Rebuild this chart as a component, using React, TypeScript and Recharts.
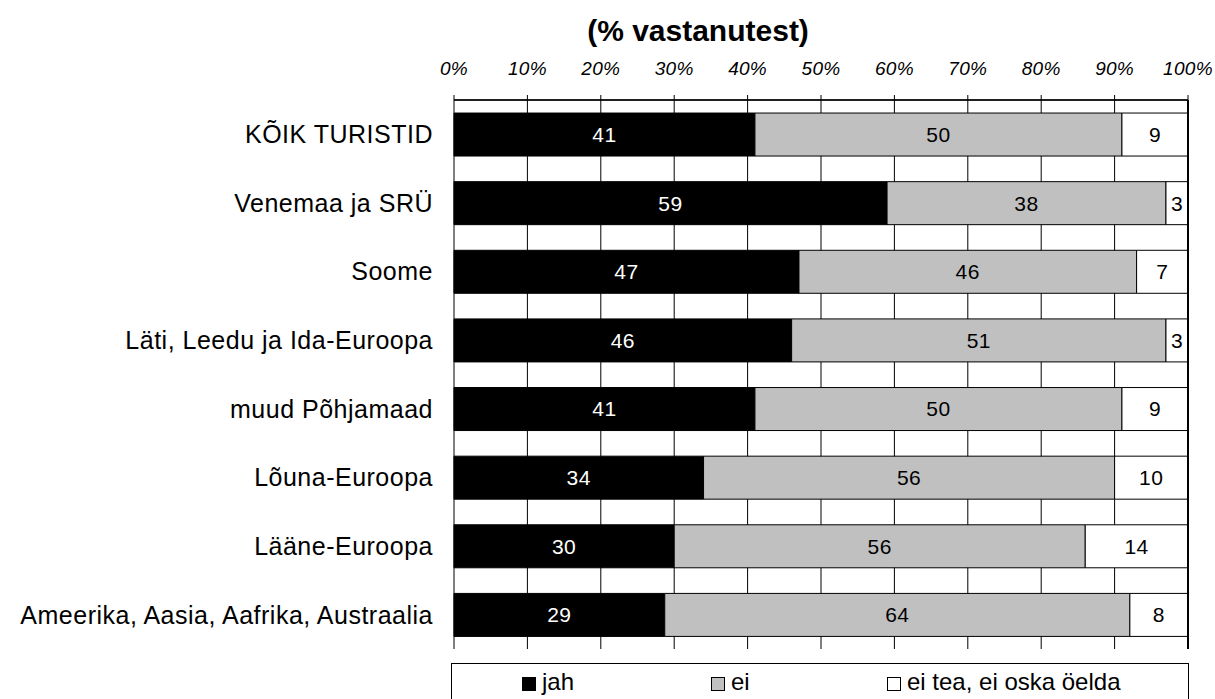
import React from 'react'
import { BarChart, Bar, XAxis, YAxis, CartesianGrid, LabelList, ReferenceLine } from 'recharts'

const categories = [
  'KÕIK TURISTID',
  'Venemaa ja SRÜ',
  'Soome',
  'Läti, Leedu ja Ida-Euroopa',
  'muud Põhjamaad',
  'Lõuna-Euroopa',
  'Lääne-Euroopa',
  'Ameerika, Aasia, Aafrika, Austraalia',
]
const jah = [41, 59, 47, 46, 41, 34, 30, 29]
const ei = [50, 38, 46, 51, 50, 56, 56, 64]
const eiTea = [9, 3, 7, 3, 9, 10, 14, 8]
const percentTicks = [0, 0.1, 0.2, 0.3, 0.4, 0.5, 0.6, 0.7, 0.8, 0.9, 1]
const seriesNames = ['jah', 'ei', 'ei tea, ei oska öelda']

const data = categories.map((name, i) => ({ name, jah: jah[i], ei: ei[i], eiTea: eiTea[i] }))
const boundaryTicks = categories.map((_, i) => i).concat(categories.length)

const font = '"Liberation Sans", Arial, sans-serif'

const series = [
  { key: 'jah', fill: '#000000', text: '#ffffff' },
  { key: 'ei', fill: '#c0c0c0', text: '#000000' },
  { key: 'eiTea', fill: '#ffffff', text: '#000000' },
]
// legend marker x positions inside the legend box
const legendX = [70, 259, 435]

const App = () => {
  return (
    <div style={{ position: 'absolute', left: 0, top: 0, width: 1215, height: 699, fontFamily: font }}>
      <div
        style={{
          position: 'absolute', left: 498, top: 16, width: 400, textAlign: 'center',
          fontSize: 30, lineHeight: '30px', fontWeight: 'bold', color: '#000',
        }}
      >
        (% vastanutest)
      </div>
      <BarChart
        width={1215}
        height={699}
        data={data}
        layout="vertical"
        stackOffset="expand"
        barCategoryGap="19%"
        margin={{ top: 70, right: 27, bottom: 50, left: 0 }}
        style={{ fontFamily: font }}
      >
        <CartesianGrid horizontal={false} stroke="#000" yAxisId="cat" />
        <XAxis
          type="number"
          orientation="top"
          domain={[0, 1]}
          ticks={percentTicks}
          tickFormatter={(v: number) => `${Math.round(v * 100)}%`}
          height={30}
          tickSize={5}
          tickMargin={20}
          stroke="#000"
          tick={{ fill: '#000', fontSize: 19, fontStyle: 'italic', letterSpacing: 0.3 }}
          interval={0}
        />
        <YAxis
          yAxisId="bounds"
          type="number"
          domain={[0, categories.length]}
          ticks={boundaryTicks}
          tick={false}
          tickSize={7}
          width={0}
          stroke="#000"
        />
        <YAxis
          yAxisId="cat"
          type="category"
          dataKey="name"
          width={454}
          axisLine={false}
          tickLine={false}
          tickSize={0}
          tickMargin={21}
          tick={{ fill: '#000', fontSize: 25, letterSpacing: 0.5 }}
          interval={0}
        />
        {series.map((s) => (
          <Bar
            key={s.key}
            dataKey={s.key}
            yAxisId="cat"
            stackId="a"
            fill={s.fill}
            stroke="#000"
            strokeWidth={1}
            isAnimationActive={false}
          >
            <LabelList
              dataKey={s.key}
              position="center"
              fill={s.text}
              fontSize={21}
              style={{ fontSize: 21, letterSpacing: 0.5 }}
            />
          </Bar>
        ))}
        <ReferenceLine yAxisId="bounds" y={0} stroke="#000" strokeWidth={1.5} />
        <ReferenceLine yAxisId="bounds" x={1} stroke="#000" strokeWidth={2} />
      </BarChart>
      <div
        style={{
          position: 'absolute', left: 451, top: 663, width: 738, height: 36, boxSizing: 'border-box',
          border: '1px solid #000', borderBottom: 'none', background: '#fff',
        }}
      >
        {series.map((s, i) => (
          <React.Fragment key={s.key}>
            <div
              style={{
                position: 'absolute', left: legendX[i], top: 13, width: 14, height: 14,
                boxSizing: 'border-box', border: '1px solid #000', background: s.fill,
              }}
            />
            <div
              style={{
                position: 'absolute', left: legendX[i] + 20, top: 6, fontSize: 24, lineHeight: '24px',
                color: '#000', whiteSpace: 'nowrap',
              }}
            >
              {seriesNames[i]}
            </div>
          </React.Fragment>
        ))}
      </div>
    </div>
  )
}

export default App
